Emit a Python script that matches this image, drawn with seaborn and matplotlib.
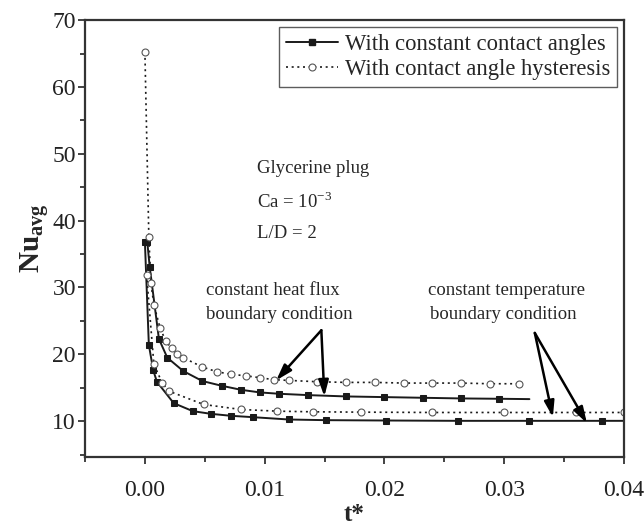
import matplotlib
matplotlib.use("Agg")
import matplotlib.pyplot as plt
import seaborn as sns
import numpy as np
from matplotlib.ticker import MultipleLocator, FormatStrFormatter
from matplotlib.lines import Line2D

# ---------------- data ----------------
# constant contact angles, constant heat flux (solid, squares)
t_cca_hf = [0.0002, 0.0004, 0.00117, 0.00187, 0.0032, 0.0048, 0.0064, 0.008, 0.0096,
            0.0112, 0.0136, 0.0168, 0.0200, 0.0232, 0.0264, 0.0296, 0.0321]
nu_cca_hf = [36.8, 33.1, 22.3, 19.5, 17.5, 16.0, 15.3, 14.7, 14.3,
             14.1, 13.9, 13.7, 13.6, 13.5, 13.4, 13.35, 13.3]

# constant contact angles, constant temperature (solid, squares)
t_cca_t = [0.0, 0.00033, 0.0007, 0.0010, 0.0024, 0.004, 0.0055, 0.0072, 0.009,
           0.012, 0.0151, 0.0201, 0.0261, 0.0321, 0.0382, 0.0400]
nu_cca_t = [36.8, 21.4, 17.6, 15.9, 12.7, 11.5, 11.1, 10.8, 10.6,
            10.25, 10.15, 10.1, 10.05, 10.05, 10.05, 10.05]

# contact angle hysteresis, constant heat flux (dotted, open circles)
t_cah_hf = [0.0, 0.00033, 0.0005, 0.00075, 0.00126, 0.00173, 0.00223, 0.0027, 0.0032,
            0.0048, 0.006, 0.0072, 0.0084, 0.0096, 0.0108, 0.012, 0.0144, 0.0168,
            0.0192, 0.0216, 0.024, 0.0264, 0.0288, 0.0312]
nu_cah_hf = [65.2, 37.5, 30.7, 27.4, 24.0, 22.0, 20.9, 20.0, 19.5,
             18.1, 17.4, 17.0, 16.8, 16.5, 16.2, 16.1, 15.9, 15.8,
             15.8, 15.7, 15.7, 15.7, 15.6, 15.6]

# contact angle hysteresis, constant temperature (dotted, open circles)
t_cah_t = [0.00014, 0.00075, 0.00145, 0.002, 0.0049, 0.008, 0.011, 0.014,
           0.018, 0.024, 0.030, 0.036, 0.040]
nu_cah_t = [31.9, 18.5, 15.7, 14.5, 12.5, 11.75, 11.5, 11.4,
            11.35, 11.3, 11.3, 11.3, 11.3]

legend_labels = ["With constant contact angles", "With contact angle hysteresis"]
x_ticks = [0.00, 0.01, 0.02, 0.03, 0.04]
y_ticks = [10, 20, 30, 40, 50, 60, 70]

# ---------------- style ----------------
sns.set_theme(style="ticks")
plt.rcParams['font.family'] = ['Liberation Serif', 'DejaVu Serif']
plt.rcParams['mathtext.fontset'] = 'custom'
plt.rcParams['mathtext.rm'] = 'Liberation Serif'
plt.rcParams['mathtext.bf'] = 'Liberation Serif:bold'

fig = plt.figure(figsize=(6.44, 5.30), dpi=100)
ax = fig.add_axes([0.132, 0.138, 0.837, 0.824])

lc = '#1a1a1a'
solid_kw = dict(color=lc, linewidth=1.4, marker='s', markersize=4.5,
                markerfacecolor=lc, markeredgecolor=lc)
dot_kw = dict(color=lc, linewidth=1.2, linestyle=(0, (1.2, 2.2)), marker='o', markersize=5,
              markerfacecolor='white', markeredgecolor='#555555', markeredgewidth=0.8)

sns.lineplot(x=t_cca_hf, y=nu_cca_hf, ax=ax, estimator=None, sort=False,
             markevery=list(range(len(t_cca_hf) - 1)), **solid_kw)
sns.lineplot(x=t_cca_t, y=nu_cca_t, ax=ax, estimator=None, sort=False,
             markevery=list(range(len(t_cca_t) - 1)), **solid_kw)
sns.lineplot(x=t_cah_hf, y=nu_cah_hf, ax=ax, estimator=None, sort=False, **dot_kw)
sns.lineplot(x=t_cah_t, y=nu_cah_t, ax=ax, estimator=None, sort=False, **dot_kw)

ax.set_xlim(-0.005, 0.04)
ax.set_ylim(4.66, 70)
ax.set_xticks(x_ticks)
ax.set_yticks(y_ticks)
ax.xaxis.set_major_formatter(FormatStrFormatter('%.2f'))
ax.xaxis.set_minor_locator(MultipleLocator(0.005))
ax.yaxis.set_minor_locator(MultipleLocator(5))
ax.tick_params(axis='both', which='major', direction='out', length=5, width=1.2,
               labelsize=17, colors='#222222')
ax.tick_params(axis='x', which='major', pad=12)
ax.tick_params(axis='y', which='major', pad=1.5)
ax.tick_params(axis='both', which='minor', direction='out', length=3.5, width=1.2,
               colors='#222222')
for s in ax.spines.values():
    s.set_visible(True)
    s.set_linewidth(1.6)
    s.set_color('#333333')

ax.set_xlabel('t*', fontsize=18, fontweight='bold', labelpad=1)
ax.set_ylabel(r'$\mathbf{Nu}_{\mathbf{avg}}$', fontsize=21, labelpad=0)

# legend
handles = [Line2D([], [], **solid_kw), Line2D([], [], **dot_kw)]
leg = ax.legend(handles, legend_labels, loc='upper right', fontsize=16.3,
                frameon=True, fancybox=False, edgecolor='#333333',
                handlelength=2.3, borderaxespad=0.3, labelspacing=0.2,
                handletextpad=0.3, borderpad=0.3)
leg.get_frame().set_linewidth(1.0)

# text annotations
tfs = 13.5
ax.text(0.00935, 47.8, 'Glycerine plug', fontsize=tfs, ha='left', va='center')
ax.text(0.00935, 42.8, r'Ca = 10$^{\mathregular{-3}}$', fontsize=tfs, ha='left', va='center')
ax.text(0.00935, 38.1, 'L/D = 2', fontsize=tfs, ha='left', va='center')

ax.text(0.0051, 29.6, 'constant heat flux', fontsize=tfs, ha='left', va='center')
ax.text(0.0051, 25.9, 'boundary condition', fontsize=tfs, ha='left', va='center')
ax.text(0.0236, 29.6, 'constant temperature', fontsize=tfs, ha='left', va='center')
ax.text(0.0238, 25.9, 'boundary condition', fontsize=tfs, ha='left', va='center')

arrow_kw = dict(arrowstyle='-|>,head_length=0.8,head_width=0.25', color='black', lw=1.8,
                mutation_scale=12, shrinkA=0, shrinkB=0)
for tip in [(0.01096, 16.1), (0.01498, 13.7)]:
    ax.annotate('', xy=tip, xytext=(0.01473, 23.6), arrowprops=arrow_kw)
for tip in [(0.03406, 10.6), (0.0369, 9.7)]:
    ax.annotate('', xy=tip, xytext=(0.03255, 23.2), arrowprops=arrow_kw)

fig.savefig('out.png', dpi=100)
